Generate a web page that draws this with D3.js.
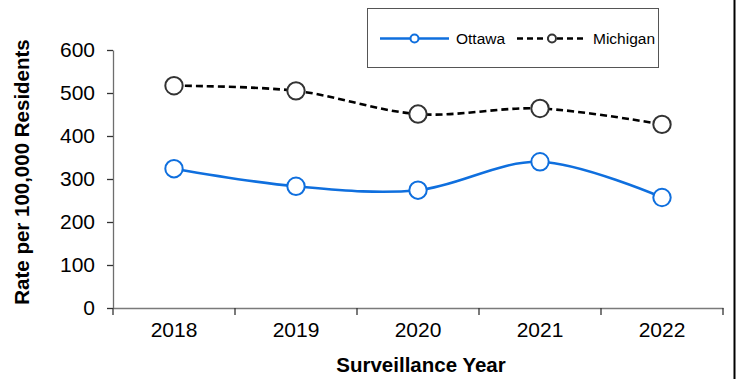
<!DOCTYPE html>
<html>
<head>
<meta charset="utf-8">
<script src="https://cdn.jsdelivr.net/npm/d3@7"></script>
<style>
  html, body { margin: 0; padding: 0; background: #fff; }
  svg { display: block; font-family: Arial, "Liberation Sans", sans-serif; }
</style>
</head>
<body>
<svg id="chart" width="736" height="379"></svg>
<script>
const years = ["2018", "2019", "2020", "2021", "2022"];
const ottawa = [324, 283, 274, 340, 257];
const michigan = [517, 505, 451, 464, 427];
const yTicks = [0, 100, 200, 300, 400, 500, 600];
const seriesNames = ["Ottawa", "Michigan"];

(function () {
const svg = d3.select("#chart");
const W = 736, H = 379;
const mLeft = 113, mRight = 723, mTop = 50, mBottom = 308;

svg.append("rect").attr("width", W).attr("height", H).attr("fill", "#fff");
svg.append("line").attr("x1", 734.5).attr("x2", 734.5).attr("y1", 0).attr("y2", H)
  .attr("stroke", "#000").attr("stroke-width", 2);

const x = d3.scaleBand().domain(years).range([mLeft, mRight]);
const y = d3.scaleLinear().domain([0, 600]).range([mBottom, mTop]);

// Y axis
const yAxis = svg.append("g").attr("transform", `translate(${mLeft},0)`)
  .call(d3.axisLeft(y).tickValues(yTicks).tickSize(6).tickSizeOuter(0).tickPadding(12));
yAxis.select(".domain").attr("stroke", "#6e6e6e").attr("stroke-width", 1.3);
yAxis.selectAll(".tick line").attr("stroke", "#333").attr("stroke-width", 1.3);
yAxis.selectAll(".tick text").attr("font-size", 21).attr("fill", "#000")
  .attr("font-family", "Arial, 'Liberation Sans', sans-serif");

// X axis
const xAxis = svg.append("g").attr("transform", `translate(0,${mBottom})`)
  .call(d3.axisBottom(x).tickSize(0).tickPadding(14));
xAxis.select(".domain").attr("stroke", "#7a7a7a").attr("stroke-width", 1.6);
xAxis.selectAll(".tick text").attr("font-size", 21).attr("fill", "#000")
  .attr("font-family", "Arial, 'Liberation Sans', sans-serif");
// boundary ticks
const bounds = years.map(d => x(d)).concat([x(years[years.length - 1]) + x.bandwidth()]);
svg.append("g").selectAll("line").data(bounds).join("line")
  .attr("x1", d => d).attr("x2", d => d)
  .attr("y1", mBottom).attr("y2", mBottom + 7)
  .attr("stroke", "#333").attr("stroke-width", 1.3);

// Axis titles
svg.append("text").attr("x", 421).attr("y", 372).attr("text-anchor", "middle")
  .attr("font-size", 20.5).attr("font-weight", "bold").text("Surveillance Year");
svg.append("text").attr("transform", "translate(29,172) rotate(-90)")
  .attr("text-anchor", "middle").attr("font-size", 20.5).attr("font-weight", "bold")
  .text("Rate per 100,000 Residents");

const cx = d => x(d) + x.bandwidth() / 2;
const line = d3.line().x(d => cx(d.year)).y(d => y(d.v)).curve(d3.curveCardinal.tension(0));

const mData = years.map((yr, i) => ({ year: yr, v: michigan[i] }));
const oData = years.map((yr, i) => ({ year: yr, v: ottawa[i] }));

svg.append("path").datum(mData).attr("d", line).attr("fill", "none")
  .attr("stroke", "#000").attr("stroke-width", 2.6).attr("stroke-dasharray", "7,4");
svg.append("path").datum(oData).attr("d", line).attr("fill", "none")
  .attr("stroke", "#0f6fde").attr("stroke-width", 2.6);

svg.append("g").selectAll("circle").data(mData).join("circle")
  .attr("cx", d => cx(d.year)).attr("cy", d => y(d.v)).attr("r", 8.7)
  .attr("fill", "#fff").attr("stroke", "#333").attr("stroke-width", 2);
svg.append("g").selectAll("circle").data(oData).join("circle")
  .attr("cx", d => cx(d.year)).attr("cy", d => y(d.v)).attr("r", 8.7)
  .attr("fill", "#fff").attr("stroke", "#0f6fde").attr("stroke-width", 2);

// Legend
const lg = svg.append("g");
lg.append("rect").attr("x", 367.5).attr("y", 8.5).attr("width", 291).attr("height", 59)
  .attr("fill", "#fff").attr("stroke", "#555").attr("stroke-width", 1);
const ly = 38.5;
const items = [
  { name: seriesNames[0], x0: 380, x1: 449, color: "#0f6fde", dash: null, mark: "#0f6fde", tx: 456 },
  { name: seriesNames[1], x0: 517, x1: 587, color: "#000", dash: "6,4", mark: "#333", tx: 593 }
];
items.forEach(it => {
  lg.append("line").attr("x1", it.x0).attr("x2", it.x1).attr("y1", ly).attr("y2", ly)
    .attr("stroke", it.color).attr("stroke-width", 2.6).attr("stroke-dasharray", it.dash);
  lg.append("circle").attr("cx", (it.x0 + it.x1) / 2).attr("cy", ly).attr("r", 4)
    .attr("fill", "#fff").attr("stroke", it.mark).attr("stroke-width", 2);
  lg.append("text").attr("x", it.tx).attr("y", ly + 5.5).attr("font-size", 15.5)
    .attr("fill", "#000").text(it.name);
});
})();
</script>
</body>
</html>
